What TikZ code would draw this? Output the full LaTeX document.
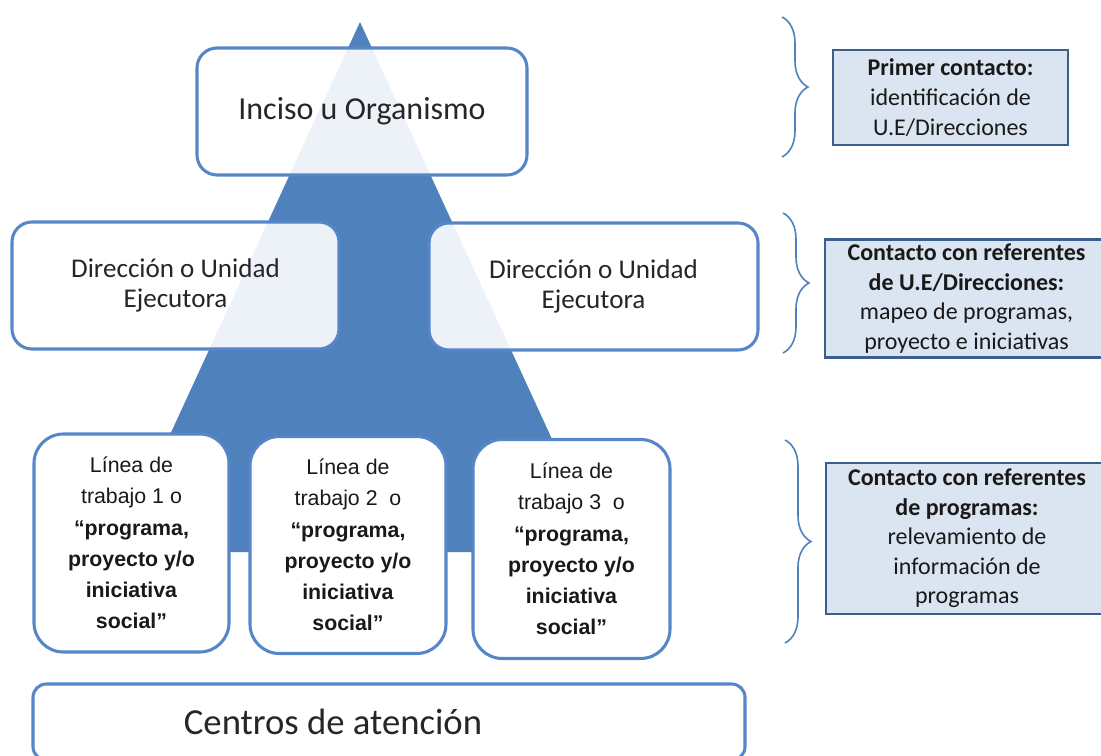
\documentclass[tikz,border=0pt]{standalone}
\usepackage{fontspec}
\setmainfont{Carlito}
\newfontfamily\arialfont{Liberation Sans}
\usepackage{xcolor}
\usepackage{tikz}
\usetikzlibrary{decorations.pathreplacing}

\definecolor{triblue}{HTML}{4F81BD}
\definecolor{edgeblue}{HTML}{5587C8}
\definecolor{notefill}{HTML}{DBE5F1}
\definecolor{noteedge}{HTML}{3A5F8E}

\begin{document}
\begin{tikzpicture}[x=0.75pt,y=-0.75pt,
    lvl/.style={draw=edgeblue,line width=2.3pt,rounded corners=15pt,fill=white,
                fill opacity=0.9,text opacity=1,align=center,text=black!85},
    work/.style={draw=edgeblue,line width=2.3pt,rounded corners=22pt,fill=white,
                 align=center,text=black!90,font=\arialfont\fontsize{16}{23.4}\selectfont},
    note/.style={draw=noteedge,line width=1.8pt,fill=notefill,align=center,
                 text=black!90,font=\fontsize{18}{22.2}\selectfont},
    curly/.style={draw=triblue,line width=1.2pt,decorate,
                  decoration={brace,amplitude=19.5pt}}]
    \useasboundingbox (0,0) rectangle (1101,756);
    \clip (0,0) rectangle (1101,756);

    % pyramid behind the levels
    \fill[triblue] (360,22) -- (604,552) -- (116,552) -- cycle;

    \node[lvl,minimum width=247.5pt,minimum height=95.25pt,
          font=\fontsize{24}{28}\selectfont] (inciso) at (362,111.5) {Inciso u Organismo};
    \node[lvl,minimum width=245.25pt,minimum height=95.25pt,
          font=\fontsize{20.3}{22.5}\selectfont] (dirA) at (175.5,285.5)
          {Dirección o Unidad\\Ejecutora};
    \node[lvl,minimum width=246.75pt,minimum height=95.25pt,
          font=\fontsize{20.3}{22.5}\selectfont] (dirB) at (593.5,286.5)
          {Dirección o Unidad\\Ejecutora};

    \node[work,minimum width=146.25pt,minimum height=163.5pt] (lin1) at (131.5,543)
          {Línea de\\trabajo 1 o\\\textbf{“programa,}\\\textbf{proyecto y/o}\\\textbf{iniciativa}\\\textbf{social”}};
    \node[work,minimum width=147pt,minimum height=162.75pt] (lin2) at (348,545)
          {Línea de\\trabajo 2 \ o\\\textbf{“programa,}\\\textbf{proyecto y/o}\\\textbf{iniciativa}\\\textbf{social”}};
    \node[work,minimum width=147.75pt,minimum height=164.25pt] (lin3) at (571.5,549)
          {Línea de\\trabajo 3 \ o\\\textbf{“programa,}\\\textbf{proyecto y/o}\\\textbf{iniciativa}\\\textbf{social”}};

    % base level, its text sits left of centre
    \node[lvl,rounded corners=10pt,minimum width=534pt,minimum height=57pt,
          fill opacity=1] (centros) at (389,722) {};
    \node[text=black!85,font=\fontsize{27.5}{30}\selectfont] (centrostxt) at (333,722)
          {Centros de atención};

    % notes on the right
    \node[note,minimum width=176.25pt,minimum height=71.25pt] (nota1) at (950.5,97.5)
          {\textbf{Primer contacto:}\\identificación de\\U.E/Direcciones};
    \node[note,minimum width=212.25pt,minimum height=85.5pt] (nota2) at (966.5,298.5)
          {\textbf{Contacto con referentes}\\\textbf{de U.E/Direcciones:}\\mapeo de programas,\\proyecto e iniciativas};
    \node[note,minimum width=211.5pt,minimum height=113.25pt] (nota3) at (967,538.5)
          {\textbf{Contacto con referentes}\\\textbf{de programas:}\\relevamiento de\\información de\\programas};

    \coordinate (b1a) at (782,17);  \coordinate (b1b) at (782,157);
    \coordinate (b2a) at (783,213); \coordinate (b2b) at (783,353);
    \coordinate (b3a) at (785,440); \coordinate (b3b) at (785,643);
    \draw[curly] (b1a) -- (b1b);
    \draw[curly] (b2a) -- (b2b);
    \draw[curly] (b3a) -- (b3b);
\end{tikzpicture}
\end{document}
